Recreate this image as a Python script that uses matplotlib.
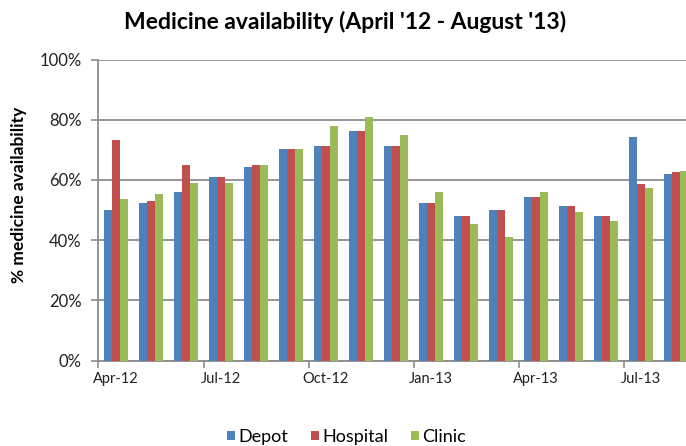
import matplotlib
matplotlib.use("Agg")
import matplotlib.pyplot as plt
import numpy as np
from matplotlib.ticker import FixedLocator, PercentFormatter

months = ["Apr-12", "May-12", "Jun-12", "Jul-12", "Aug-12", "Sep-12", "Oct-12", "Nov-12",
          "Dec-12", "Jan-13", "Feb-13", "Mar-13", "Apr-13", "May-13", "Jun-13", "Jul-13", "Aug-13"]
depot = [50.0, 52.2, 56.1, 61.1, 64.2, 70.2, 71.1, 76.3, 71.1, 52.2, 47.9, 50.0, 54.3, 51.3, 47.9, 74.1, 62.0]
hospital = [73.2, 53.0, 65.0, 61.1, 65.0, 70.2, 71.1, 76.3, 71.1, 52.2, 47.9, 50.0, 54.3, 51.3, 47.9, 58.6, 62.5]
clinic = [53.8, 55.2, 58.9, 58.9, 65.0, 70.2, 78.0, 80.9, 74.9, 56.0, 45.3, 40.9, 56.0, 49.5, 46.5, 57.3, 62.9]
series = [("Depot", depot, "#4F81BD"), ("Hospital", hospital, "#C0504D"), ("Clinic", clinic, "#9BBB59")]
title = "Medicine availability (April '12 - August '13)"
ylabel = "% medicine availability"

plt.rcParams['font.family'] = ['Lato', 'DejaVu Sans']

W, H = 686, 446
fig = plt.figure(figsize=(W / 100, H / 100), dpi=100)
left, right_px, top, bottom = 98.5, 98.5 + 17 * 35, 59.5, 360.5
ax = fig.add_axes([left / W, 1 - bottom / H, (right_px - left) / W, (bottom - top) / H])

x = np.arange(len(months))
bw = 0.22
for k, (name, vals, col) in enumerate(series):
    ax.bar(x + (k - 1) * bw, vals, width=bw, color=col, label=name, zorder=3,
           edgecolor='none')

ax.set_xlim(-0.5, len(months) - 0.5)
ax.set_ylim(0, 100)
ax.set_yticks(np.arange(0, 101, 20))
ax.yaxis.set_major_formatter(PercentFormatter(decimals=0))
ax.grid(axis='y', color='#8c8c8c', linewidth=1.3, zorder=0)
ax.set_axisbelow(True)

lab_idx = list(range(0, len(months), 3))
ax.set_xticks(lab_idx)
ax.set_xticklabels([months[i] for i in lab_idx])
ax.xaxis.set_minor_locator(FixedLocator(np.arange(-0.5, len(months), 3)))
ax.tick_params(axis='x', which='major', length=0, pad=8, labelsize=10.5, colors='#222222')
ax.tick_params(axis='x', which='minor', length=5, width=1.2, color='#8c8c8c')
ax.tick_params(axis='y', length=5, width=1.2, color='#8c8c8c', labelsize=12, pad=7, labelcolor='#222222')

for s in ['top', 'right']:
    ax.spines[s].set_visible(False)
for s in ['left', 'bottom']:
    ax.spines[s].set_color('#8c8c8c')
    ax.spines[s].set_linewidth(1.3)

ax.set_ylabel(ylabel, fontsize=12.5, fontweight='bold')
ax.yaxis.set_label_coords(-0.12, 0.55)
fig.text(345 / W, 1 - 22 / H, title, ha='center', va='center', fontsize=16.5, fontweight='bold')

fig.legend(loc='center', bbox_to_anchor=(0.505, 1 - 437 / H), ncol=3, frameon=False,
           fontsize=13, handlelength=0.45, handleheight=0.45, handletextpad=0.2,
           columnspacing=1.25)

fig.savefig("out.png", dpi=100)
